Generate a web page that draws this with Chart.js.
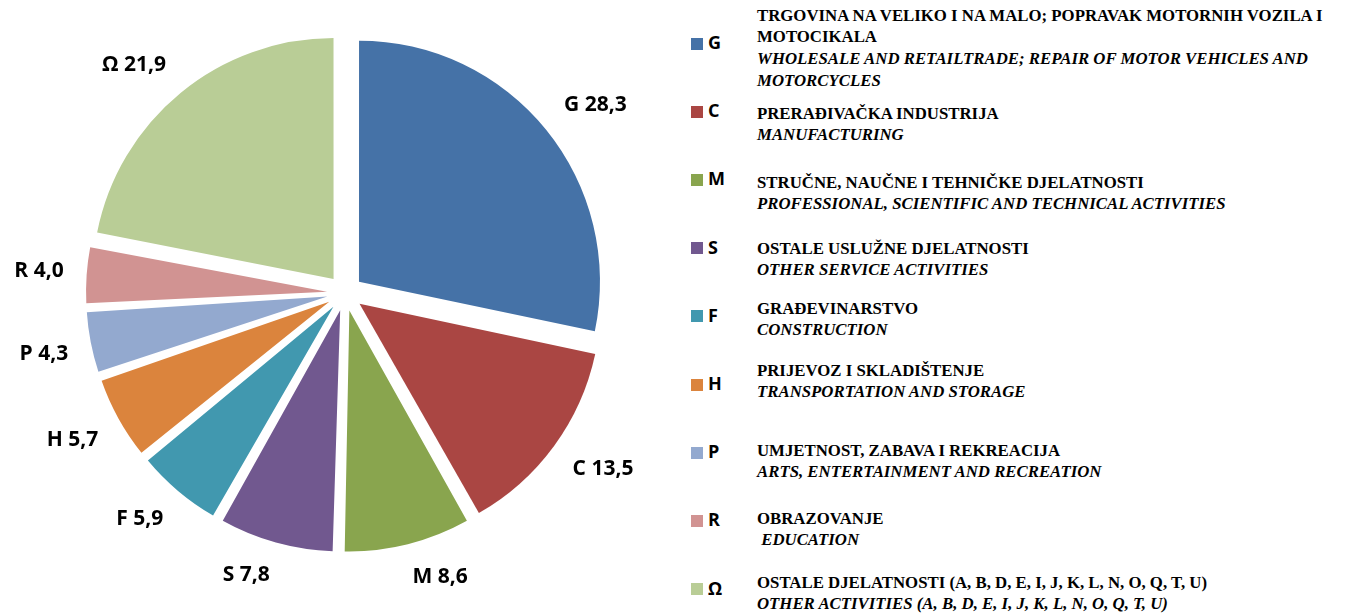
<!DOCTYPE html>
<html>
<head>
<meta charset="utf-8">
<script src="https://cdn.jsdelivr.net/npm/chart.js@4.4.1/dist/chart.umd.min.js"></script>
<style>
  body { margin: 0; background: #fff; width: 1349px; height: 613px; overflow: hidden; position: relative; }
  #pie { position: absolute; left: 0; top: 0; }
  .swatch { position: absolute; left: 691px; width: 12px; height: 12px; }
  .code { position: absolute; left: 708px; font: bold 18px "Open Sans"; line-height: 20px; color: #000; }
  .desc { position: absolute; left: 757px; font: bold 16.8px "Liberation Serif"; line-height: 21.7px;
          color: #000; white-space: nowrap; }
  .desc i, .desc span { display: block; }
</style>
</head>
<body>
<canvas id="pie" width="690" height="613"></canvas>
<div id="legend"></div>
<script>
const codes = ['G', 'C', 'M', 'S', 'F', 'H', 'P', 'R', 'Ω']
const shares = [28.3, 13.5, 8.6, 7.8, 5.9, 5.7, 4.3, 4.0, 21.9]
const namesLocal = [
    ['TRGOVINA NA VELIKO I NA MALO; POPRAVAK MOTORNIH VOZILA I', 'MOTOCIKALA'],
    ['PRERAĐIVAČKA INDUSTRIJA'],
    ['STRUČNE, NAUČNE I TEHNIČKE DJELATNOSTI'],
    ['OSTALE USLUŽNE DJELATNOSTI'],
    ['GRAĐEVINARSTVO'],
    ['PRIJEVOZ I SKLADIŠTENJE'],
    ['UMJETNOST, ZABAVA I REKREACIJA'],
    ['OBRAZOVANJE'],
    ['OSTALE DJELATNOSTI (A, B, D, E, I, J, K, L, N, O, Q, T, U)']
]
const namesEnglish = [
    ['WHOLESALE AND RETAILTRADE; REPAIR OF MOTOR VEHICLES AND', 'MOTORCYCLES'],
    ['MANUFACTURING'],
    ['PROFESSIONAL, SCIENTIFIC AND TECHNICAL ACTIVITIES'],
    ['OTHER SERVICE ACTIVITIES'],
    ['CONSTRUCTION'],
    ['TRANSPORTATION AND STORAGE'],
    ['ARTS, ENTERTAINMENT AND RECREATION'],
    ['\u00a0EDUCATION'],
    ['OTHER ACTIVITIES (A, B, D, E, I, J, K, L, N, O, Q, T, U)']
]
const colors = ['#4572A7', '#AA4643', '#89A54E', '#71588F', '#4198AF', '#DB843D', '#93A9CF', '#D19392', '#B9CD96']

const RADIUS = 241
const EXPLODE = 18          // how far every slice is pulled out, px
const KEY_TOP = 43.5        // centre of the first legend marker
const KEY_STEP = 68.2
const descTop = [4.6, 102.6, 171.6, 237.6, 297.6, 359.6, 439.6, 507.6, 571.6]

// chart.js grows small exploded slices a bit, undo that so all share one radius
const evenRadius = {
    id: 'evenRadius',
    beforeDatasetsDraw(chart) {
        chart.getDatasetMeta(0).data.forEach(arc => {
            const fix = 1 - Math.sin(Math.min(Math.PI, arc.circumference))
            arc.outerRadius = RADIUS - EXPLODE * fix
        })
    }
}

const clamp = v => Math.max(-1, Math.min(1, v))

// "outside end" labels: the label corner nearest the pie sits just off the slice
const sliceLabels = {
    id: 'sliceLabels',
    afterDatasetsDraw(chart) {
        const ctx = chart.ctx
        ctx.save()
        ctx.font = 'bold 21px "Open Sans"'
        ctx.fillStyle = '#000'
        ctx.textAlign = 'center'
        ctx.textBaseline = 'middle'
        chart.getDatasetMeta(0).data.forEach((arc, i) => {
            const mid = (arc.startAngle + arc.endAngle) / 2
            const text = `${codes[i]} ${shares[i].toFixed(1).replace('.', ',')}`
            const w = ctx.measureText(text).width
            const dx = Math.cos(mid), dy = Math.sin(mid)
            const reach = RADIUS + EXPLODE + 23
            const x = arc.x + dx * reach + clamp(dx * 4) * w / 2
            const y = arc.y + dy * reach + clamp(dy * 4) * 10
            ctx.fillText(text, x, y)
        })
        ctx.restore()
    }
}

new Chart('pie', {
    type: 'pie',
    data: {
        labels: codes,
        datasets: [{
            data: shares,
            backgroundColor: colors,
            borderWidth: 0,
            offset: EXPLODE * 4,
            hoverOffset: EXPLODE * 4,
            radius: RADIUS
        }]
    },
    options: {
        responsive: false,
        animation: false,
        events: [],
        layout: {padding: {bottom: 27}},
        plugins: {legend: {display: false}, tooltip: {enabled: false}}
    },
    plugins: [evenRadius, sliceLabels]
})

const legend = document.getElementById('legend')
codes.forEach((code, i) => {
    const centre = KEY_TOP + i * KEY_STEP
    legend.insertAdjacentHTML('beforeend', `
        <div class="swatch" style="top:${centre - 6}px;background:${colors[i]}"></div>
        <div class="code" style="top:${centre - 11.5}px">${code}</div>
        <div class="desc" style="top:${descTop[i]}px">
            ${namesLocal[i].map(l => `<span>${l}</span>`).join('')}
            ${namesEnglish[i].map(l => `<i>${l}</i>`).join('')}
        </div>`)
})
</script>
</body>
</html>
